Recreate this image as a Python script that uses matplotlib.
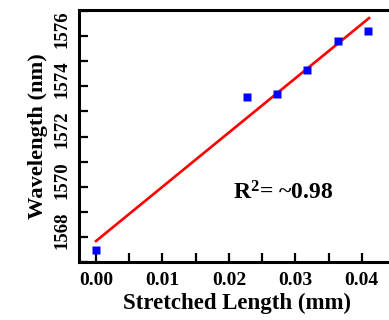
import numpy as np
import matplotlib
matplotlib.use("Agg")
import matplotlib.pyplot as plt
import matplotlib.transforms as mtransforms
from matplotlib.ticker import MultipleLocator

plt.rcParams['font.family'] = 'Liberation Serif'
plt.rcParams['font.weight'] = 'bold'
plt.rcParams['mathtext.default'] = 'regular'

# measured peak wavelength vs stretched length
stretch = np.array([0.0, 0.02275, 0.0273, 0.0318, 0.0364, 0.0409])   # mm
wavelength = np.array([1567.48, 1573.59, 1573.71, 1574.63, 1575.79, 1576.21])  # nm

# linear fit
slope, intercept = np.polyfit(stretch, wavelength, 1)
xfit = np.array([0.0, 0.0411])
yfit = slope * xfit + intercept

fig = plt.figure(figsize=(3.89, 3.20), dpi=100)
ax = fig.add_axes([79/389, 58/320, 316/389, 252/320])

ax.plot(xfit, yfit, color='#ff0000', lw=1.9, zorder=2)
ax.plot(stretch, wavelength, 's', color='#0000ff', ms=5.2, mec='none', zorder=3)

ax.set_xlim(-0.00256, 0.045)
ax.set_ylim(1567.0, 1577.04)
ax.xaxis.set_major_locator(MultipleLocator(0.01))
ax.xaxis.set_minor_locator(MultipleLocator(0.005))
ax.yaxis.set_major_locator(MultipleLocator(2))
ax.yaxis.set_minor_locator(MultipleLocator(1))
ax.xaxis.set_major_formatter(plt.FormatStrFormatter('%.2f'))

ax.tick_params(which='both', direction='in', length=6.5, width=1.6, labelsize=14)
ax.tick_params(axis='x', which='major', pad=7)
ax.tick_params(axis='y', which='major', pad=6, labelsize=13.5)
for sp in ax.spines.values():
    sp.set_linewidth(2.2)

ax.set_xlabel('Stretched Length (mm)', fontsize=16.5, fontweight='bold', labelpad=3)
ax.set_ylabel('Wavelength (nm)', fontsize=16.2, fontweight='bold', labelpad=4)

ax.text(0.02815, 1569.75, 'R$^{2}$= ~0.98', fontsize=17, fontweight='bold',
        ha='center', va='center')

# vertical y tick labels, nudged slightly upward
shift = mtransforms.ScaledTranslation(0, 5/72, fig.dpi_scale_trans)
for lab in ax.get_yticklabels():
    lab.set_rotation(90)
    lab.set_va('center')
    lab.set_transform(lab.get_transform() + shift)

fig.savefig('out.png', dpi=100)
